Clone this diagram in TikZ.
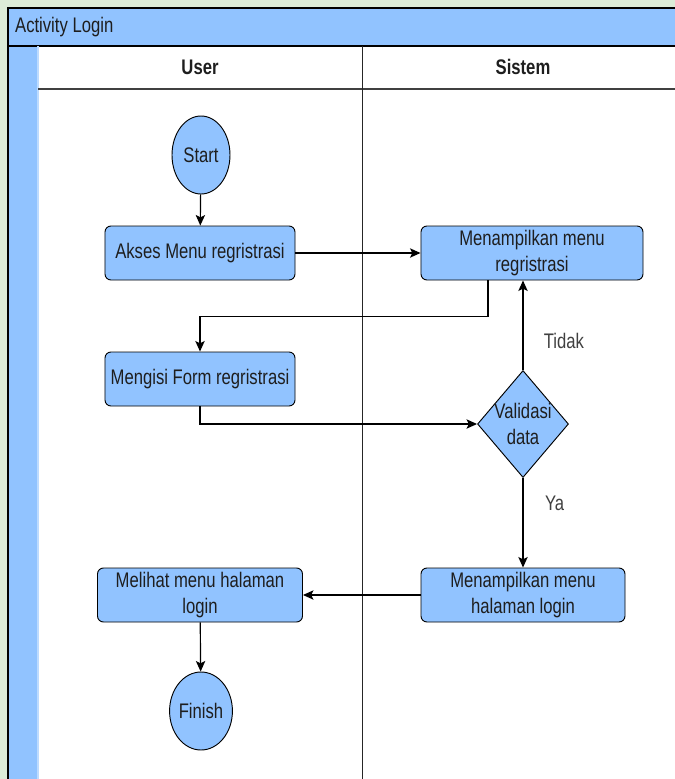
\documentclass[tikz,border=0pt]{standalone}
\usepackage{fontspec}
\setmainfont{Liberation Sans}[FakeStretch=0.79]
\usetikzlibrary{shapes.geometric,arrows.meta}
\definecolor{bggreen}{HTML}{DCECD8}
\definecolor{laneblue}{HTML}{91C3FF}
\definecolor{txtdark}{HTML}{1E1E1E}

\begin{document}
\begin{tikzpicture}[x=0.03cm,y=-0.03cm,
  font=\fontsize{18}{22.5}\selectfont,text=txtdark,
  act/.style={draw,rounded corners=0.18cm,fill=laneblue,line width=0.8pt,align=center,minimum height=1.62cm,inner sep=2pt},
  term/.style={draw,ellipse,fill=laneblue,line width=0.8pt,minimum width=1.74cm,minimum height=2.34cm,inner sep=0pt},
  decide/.style={draw,diamond,fill=laneblue,line width=0.8pt,minimum width=2.73cm,minimum height=3.21cm,inner sep=0pt},
  flow/.style={line width=1pt,-{Stealth[length=9pt,width=8pt,inset=2pt]}}]

\useasboundingbox (0,0) rectangle (675,779);
\clip (0,0) rectangle (675,779);
\fill[bggreen] (0,0) rectangle (675,779);

% pool and lanes
\draw[fill=laneblue,line width=1pt] (8,8) rectangle (700,800);
\fill[white] (38,46) rectangle (700,800);
\draw[line width=1pt] (8,46) -- (700,46);
\draw[laneblue!60!white,line width=1pt] (38,46) -- (38,800);
\draw[line width=1.5pt,black!75] (38,89) -- (700,89);
\draw[line width=0.8pt,black!85] (362,46) -- (362,800);

\node[anchor=west] (title) at (11,27) {Activity Login};
\node[font=\fontsize{18}{22.5}\selectfont\bfseries] (user) at (200,67) {User};
\node[font=\fontsize{18}{22.5}\selectfont\bfseries] (sistem) at (523,67) {Sistem};

% user lane
\node[term] (start) at (201,155) {Start};
\node[act,minimum width=5.7cm] (akses) at (200,253) {Akses Menu regristrasi};
\node[act,minimum width=5.7cm] (mengisi) at (200,379) {Mengisi Form regristrasi};
\node[act,minimum width=6.15cm] (melihat) at (200,595) {Melihat menu halaman\\login};
\node[term] (finish) at (201,711) {Finish};

% sistem lane
\node[act,minimum width=6.66cm] (mreg) at (532,253) {Menampilkan menu\\regristrasi};
\node[decide] (valid) at (523,424) {};
\node[align=center,inner sep=0pt] (validtext) at (valid) {Validasi\\data};
\node[act,minimum width=6.12cm] (mlogin) at (523,595) {Menampilkan menu\\halaman login};

\draw[flow] (start) -- (akses);
\draw[flow] (akses) -- (mreg);
\draw[flow] ([xshift=-1.32cm]mreg.south) -- ++(0,36) -| (mengisi.north);
\draw[flow] (mengisi.south) |- (valid.west);
\draw[flow] (valid.north) -- (valid.north |- mreg.south) node[pos=0.32,right=14pt,text=black!75] (tidak) {Tidak};
\draw[flow] (valid.south) -- (mlogin.north) node[pos=0.28,right=15pt,text=black!75] (ya) {Ya};
\draw[flow] (mlogin) -- (melihat);
\draw[flow] (melihat) -- (finish);

\end{tikzpicture}
\end{document}
